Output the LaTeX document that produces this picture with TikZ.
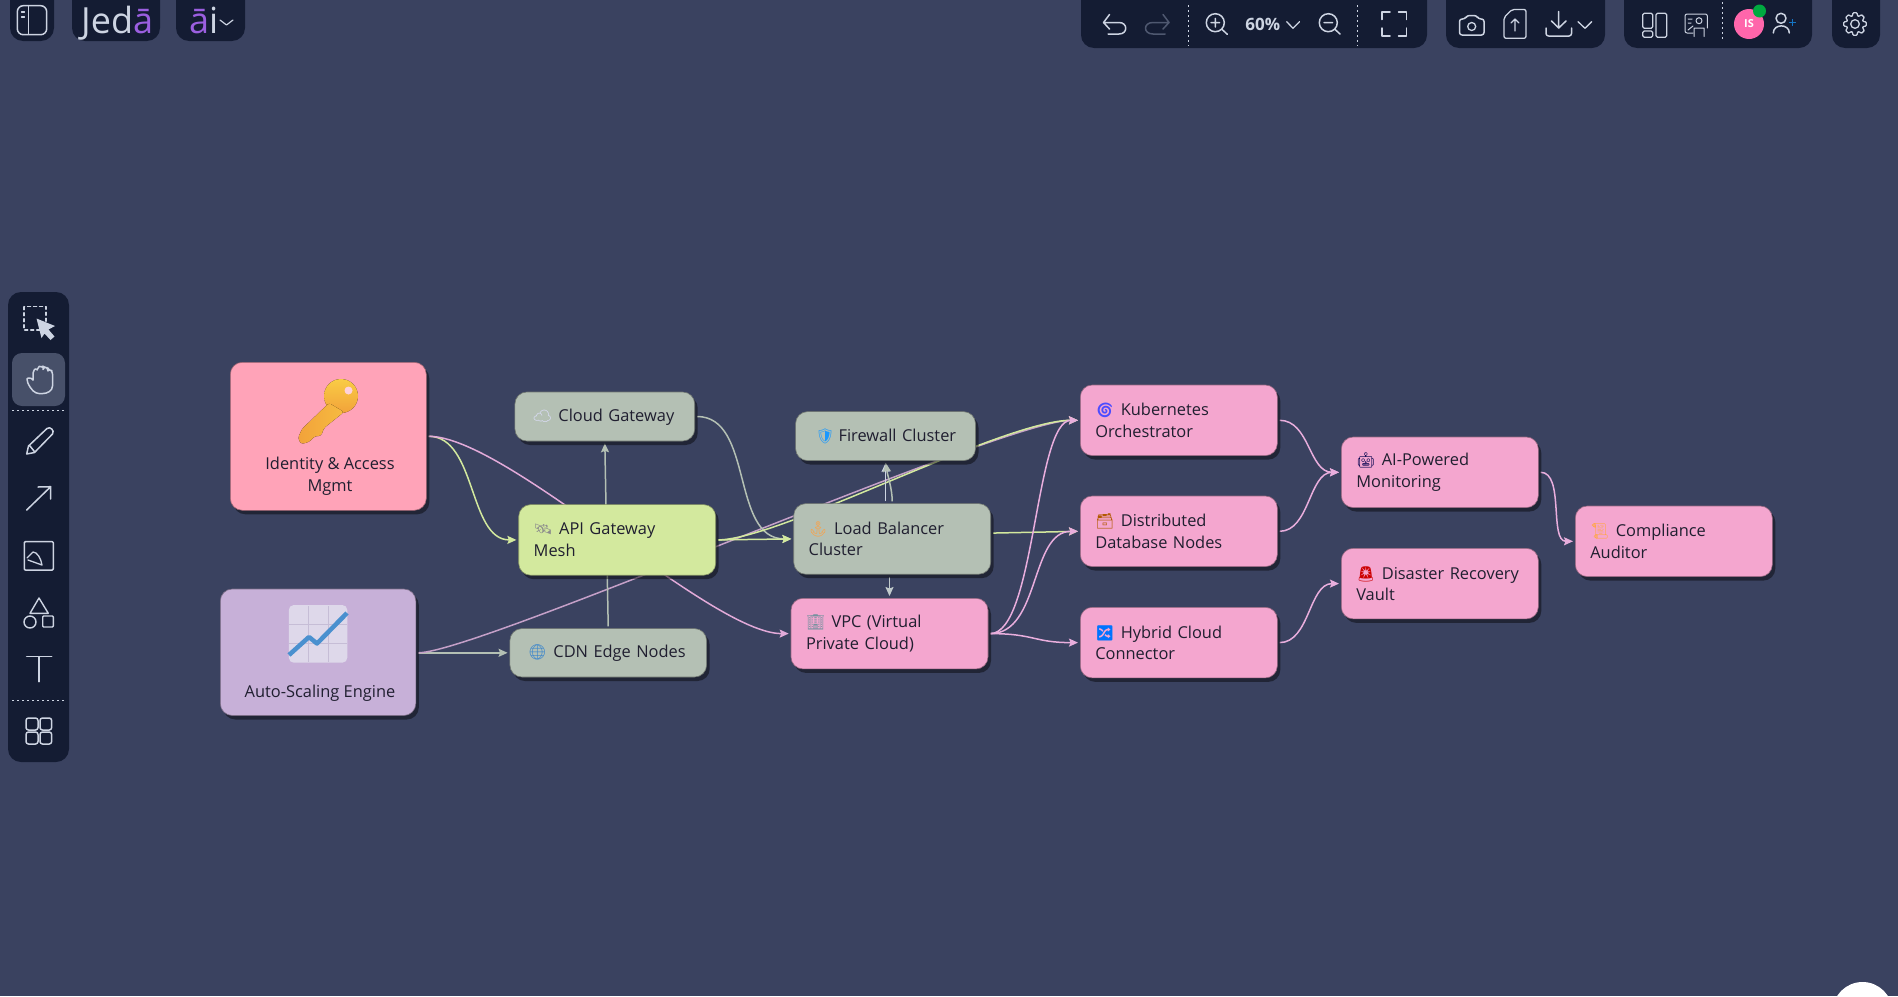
\documentclass[tikz,border=0pt]{standalone}
\usepackage{fontspec}
\setmainfont{Open Sans}
\newfontfamily\emo{Noto Emoji}
\usetikzlibrary{arrows.meta,shadows,calc}
\definecolor{bgc}{HTML}{3A4260}
\definecolor{barc}{HTML}{141C33}
\definecolor{hlc}{HTML}{475069}
\definecolor{icn}{HTML}{CDD4E2}
\definecolor{dimicn}{HTML}{4F5870}
\definecolor{purp}{HTML}{9B5FE0}
\definecolor{greyn}{HTML}{B4C0B4}
\definecolor{greenn}{HTML}{D3E99E}
\definecolor{pinkn}{HTML}{F4A6CF}
\definecolor{rosen}{HTML}{FFA3B8}
\definecolor{lilacn}{HTML}{C7B0D8}
\definecolor{pinke}{HTML}{E9AEDD}
\definecolor{mauve}{HTML}{C89ACB}
\definecolor{txt}{HTML}{201F30}
\definecolor{keya}{HTML}{F9CC45}
\definecolor{keyb}{HTML}{F2A23A}
\definecolor{chartb}{HTML}{DED8EA}
\definecolor{chartg}{HTML}{C6BDD6}
\definecolor{chartl}{HTML}{4A90CF}
\pgfdeclarelayer{bg}\pgfdeclarelayer{edges}
\pgfsetlayers{bg,edges,main}
\newcommand{\ico}[2]{\makebox[25.5pt][l]{\textcolor{#1}{\emo\fontsize{15}{15}\selectfont #2}}}
\tikzset{
  box/.style={rounded corners=12pt,anchor=north west,draw=#1!62!black,line width=.6pt,fill=#1,
    text=txt,font=\fontsize{16.4}{21.6}\selectfont,align=left,inner ysep=0pt,
    drop shadow={shadow xshift=3pt,shadow yshift=-4pt,opacity=.5,fill=black!85!bgc}},
  wide/.style={minimum height=70.6pt,text width=167pt,inner xsep=15pt},
  single/.style={minimum height=49pt,text width=#1,inner xsep=18pt},
  edge/.style={line width=1.5pt,draw=#1,-{Stealth[length=9pt,width=8pt,inset=1.5pt]},shorten <=2pt,shorten >=2pt},
  tail/.style={line width=1.5pt,draw=#1,shorten <=2pt},
  bar/.style={fill=barc,rounded corners=13pt},
  icon/.style={draw=icn,line width=1.5pt,line cap=round,line join=round},
  sep/.style={draw=icn,line width=1pt,dash pattern=on 1.5pt off 3.5pt},
}
\begin{document}
\begin{tikzpicture}[x=1pt,y=-1pt]
\useasboundingbox (0,0) rectangle (1898,996);
\begin{pgfonlayer}{bg}
\fill[bgc] (0,0) rectangle (1898,996);
\end{pgfonlayer}

% nodes
\node[box=rosen,minimum width=196pt,minimum height=148pt] (iam) at (230,362) {};
\node[box=lilacn,minimum width=195.5pt,minimum height=126.5pt] (auto) at (220,588.7) {};
\node[box=greyn,single=143.8pt,text height=12pt,text depth=2pt] (cloud) at (514.6,391.7) {\mbox{\ico{white!88!blue}{☁}Cloud Gateway}};
\node[box=greenn,wide] (api) at (518.4,504.3) {\mbox{\ico{black!45}{🛰}API Gateway}\\Mesh};
\node[box=greyn,single=160.7pt,minimum height=48.4pt,text height=11pt,text depth=2pt] (cdn) at (509.6,628.3) {\mbox{\ico{cyan!55!blue!85}{🌐}CDN Edge Nodes}};
\node[box=greyn,single=139.9pt,inner xsep=20pt] (fw) at (795.3,411.3) {\mbox{\makebox[23pt][l]{\textcolor{blue!45!cyan!90}{\emo\fontsize{15}{15}\selectfont 🛡}}Firewall Cluster}};
\node[box=greyn,wide] (lb) at (793.4,503.3) {\mbox{\ico{orange!75!white}{⚓}Load Balancer}\\Cluster};
\node[box=pinkn,wide] (vpc) at (790.7,598) {\mbox{\ico{cyan!40!black!70}{🏢}VPC (Virtual}\\Private Cloud)};
\node[box=pinkn,wide] (k8s) at (1080,384.7) {\mbox{\ico{blue!70!white}{🌀}Kubernetes}\\Orchestrator};
\node[box=pinkn,wide] (db) at (1080,495.7) {\mbox{\ico{orange!70!black}{🗃}Distributed}\\Database Nodes};
\node[box=pinkn,wide] (hy) at (1080,607) {\mbox{\ico{blue!55!cyan}{🔀}Hybrid Cloud}\\Connector};
\node[box=pinkn,wide] (mon) at (1341,436.7) {\mbox{\ico{black!70!blue}{🤖}AI-Powered}\\Monitoring};
\node[box=pinkn,wide] (dr) at (1341,548) {\mbox{\ico{red!80!black}{🚨}Disaster Recovery}\\Vault};
\node[box=pinkn,wide] (aud) at (1575,505.7) {\mbox{\ico{orange!70!white}{📜}Compliance}\\Auditor};
\node[font=\fontsize{16.4}{21.6}\selectfont,text=txt,align=center,inner sep=0pt] (iamt) at (330,476.5) {Identity \& Access\\Mgmt};
\node[font=\fontsize{16.4}{21.6}\selectfont,text=txt,inner sep=0pt] (autot) at (320,693) {Auto-Scaling Engine};

% key picture
\fill[top color=keya,bottom color=keyb] (341,396) circle[radius=17pt];
\fill[left color=keyb,right color=keya!60!keyb,rounded corners=2.5pt]
  (329,403) -- (344,412) -- (324,428) -- (321,436) -- (315,436) -- (309,442) -- (301,444) -- (298,438) -- (302,429) -- cycle;
\fill[rosen!50!white] (348.5,390.5) circle[radius=4pt];

% chart picture
\fill[rounded corners=5pt,fill=chartb] (288.8,605) rectangle (347.3,662.7);
\foreach \gx in {308,328}{\draw[chartg,line width=.8pt] (\gx,606) -- (\gx,662);}
\foreach \gy in {624,643}{\draw[chartg,line width=.8pt] (289,\gy) -- (347,\gy);}
\draw[draw=chartl,line width=4.5pt,line join=round] (289,655) -- (309,637) -- (317,643.5) -- (347,613);

% connectors, behind the nodes
\begin{pgfonlayer}{edges}
\draw[edge=greenn] (iam.east) .. controls +(50,0) and +(-50,0) .. (api.west);
\draw[edge=pinke!80!mauve] (iam.east) .. controls +(80,0) and +(-80,0) .. (vpc.west);
\draw[edge=greyn] (auto.east|-cdn.west) -- (cdn.west);
\draw[edge=mauve!85!greyn] (auto.east|-cdn.west) .. controls +(62,0) and +(-77,0) .. (k8s.west);
\draw[edge=greyn] (cdn.north) -- (cloud.south);
\draw[edge=greyn] (cloud.east) .. controls +(59,0) and +(-63,0) .. (lb.west);
\draw[edge=greenn] (api.east) -- (lb.west);
\draw[edge=greenn] (api.east) .. controls +(64,0) and +(-77,0) .. (k8s.west);
\draw[edge=icn] (fw.south|-lb.north) -- (fw.south);
\draw[edge=greyn] (lb.north) .. controls +(0,-15) and +(2,15) .. (fw.south);
\draw[edge=icn!50!greyn] (lb.south-|vpc.north) -- (vpc.north);
\draw[edge=greenn] ([yshift=5.8pt]lb.east) -- (db.west);
\draw[edge=pinke] (vpc.east) .. controls +(47,0) and +(-45,0) .. (k8s.west);
\draw[edge=pinke] (vpc.east) .. controls +(52,0) and +(-50,0) .. (db.west);
\draw[edge=pinke] (vpc.east) .. controls +(46,0) and +(-46,0) .. (hy.west);
\draw[edge=pinke] (k8s.east) .. controls +(32,0) and +(-32,0) .. (mon.west);
\draw[edge=pinke] (db.east) .. controls +(32,0) and +(-32,0) .. (mon.west);
\draw[edge=pinke] (hy.east) .. controls +(32,0) and +(-32,0) .. (dr.west);
\draw[edge=pinke] (mon.east) .. controls +(26,0) and +(-26,0) .. (aud.west);
\end{pgfonlayer}

% top and side chrome
\begin{scope}
\clip (0,0) rectangle (1898,996);
\fill[bar] (10,-14) rectangle (54,41);
\fill[bar] (72,-14) rectangle (160,41);
\fill[bar] (176,-14) rectangle (245,41);
\fill[bar] (1081,-14) rectangle (1427,48);
\fill[bar] (1446,-14) rectangle (1605,48);
\fill[bar] (1624,-14) rectangle (1812,48);
\fill[bar] (1832,-14) rectangle (1880,48);
\fill[white] (1862.5,1012) circle[radius=30pt];
\end{scope}
\fill[bar] (8,292) rectangle (69,762);
\fill[hlc,rounded corners=10pt] (12,353) rectangle (65,406);

% panel toggle
\draw[icon,rounded corners=6pt] (17.3,5.7) rectangle (46.7,34.7);
\draw[icon] (28.3,6) -- (28.3,34);
\draw[icon,line width=1.2pt] (21.5,12) -- (24.5,12) (21.5,17) -- (24.5,17);
% logos
\node[font=\fontsize{36}{36}\selectfont,text=icn,inner sep=0pt,anchor=base west] (jeda) at (81,33) {Jed\textcolor{purp}{ā}};
\node[font=\fontsize{36}{36}\selectfont,text=icn,inner sep=0pt,anchor=base west] (ait) at (189,33) {\textcolor{purp}{ā}i};
\draw[icon,line width=1.2pt] (220,20) -- (226.5,25) -- (233,20);

% undo / redo
\draw[icon] (1109.5,14.5) -- (1103.5,22.5) -- (1109.5,29) (1103.5,22.5) -- (1119,22.5) .. controls (1128,22.5) and (1128,34) .. (1119,34) -- (1108,34);
\draw[icon,draw=dimicn] (1163,14.5) -- (1169,22.5) -- (1163,29) (1169,22.5) -- (1153,22.5) .. controls (1143,22.5) and (1143,34) .. (1153,34) -- (1165,34);
\draw[sep] (1188.7,5) -- (1188.7,46);
\draw[sep] (1357.7,5) -- (1357.7,46);
% zoom
\draw[icon] (1215.3,22.7) circle[radius=9pt] (1222,29.4) -- (1227.3,34.3) (1211,22.7) -- (1219.6,22.7) (1215.3,18.4) -- (1215.3,27);
\node[font=\bfseries\fontsize{17}{17}\selectfont,text=icn,inner sep=0pt] (pct) at (1262.7,24) {60\%};
\draw[icon,line width=1.3pt] (1286.7,21.7) -- (1293,28.3) -- (1299.5,21.7);
\draw[icon] (1328.3,22.7) circle[radius=9pt] (1335,29.4) -- (1340,34) (1324,22.7) -- (1332.6,22.7);
% fit
\draw[icon] (1382,19.5) -- (1382,12) -- (1390,12) (1398.5,12) -- (1406.5,12) -- (1406.5,19.5) (1406.5,28) -- (1406.5,36) -- (1398.5,36) (1390,36) -- (1382,36) -- (1382,28);
% camera
\draw[icon,rounded corners=2.5pt] (1459.5,19) -- (1465,19) -- (1467,15.5) -- (1476.5,15.5) -- (1478.5,19) -- (1484,19) -- (1484,35) -- (1459.5,35) -- cycle;
\draw[icon,line width=1.3pt] (1471.7,26.5) circle[radius=4pt];
% export
\draw[icon,rounded corners=2pt,line width=1.3pt] (1512,9.5) -- (1526,9.5) -- (1526,38.3) -- (1504,38.3) -- (1504,17.5) -- cycle;
\draw[icon,line width=1.3pt] (1515,31) -- (1515,19) (1511,23) -- (1515,19) -- (1519,23);
% download
\draw[icon] (1558.7,11.5) -- (1558.7,28) (1551.5,21) -- (1558.7,28) -- (1566,21);
\draw[icon,rounded corners=2.5pt] (1546,28) -- (1546,36) -- (1571.5,36) -- (1571.5,28);
\draw[icon,line width=1.3pt] (1578,21.7) -- (1585,28.3) -- (1591.7,21.7);
% layout
\draw[icon,line width=1.2pt,rounded corners=1.5pt] (1642.7,13.3) rectangle (1652.7,28.3) (1642.7,31) rectangle (1652.7,37.3) (1656,13.3) rectangle (1666.7,37.3);
% presenter
\draw[icon,line width=1pt,rounded corners=2pt] (1693,33) -- (1685,33) -- (1685,14) -- (1707.3,14) -- (1707.3,28);
\draw[icon,line width=1pt] (1699,20.7) circle[radius=3pt] (1694,36.5) -- (1694,28) -- (1704,28) -- (1704,36.5) (1688,19) -- (1692,19) (1688,23) -- (1691,23) (1688,30) -- (1693,26);
\draw[sep] (1722.7,2) -- (1722.7,42);
% avatar
\fill[red!55!magenta!60!white] (1749,24) circle[radius=15pt];
\node[font=\bfseries\fontsize{11}{11}\selectfont,text=white,inner sep=0pt] (is) at (1749,24) {IS};
\fill[green!55!black!75!cyan] (1759.5,11) circle[radius=6.5pt];
\draw[icon] (1781,18.3) circle[radius=5pt] (1773.3,33) .. controls (1773.3,23.5) and (1789.3,23.5) .. (1789.3,33);
\draw[draw=cyan!55!blue,line width=1.2pt] (1789,22.3) -- (1795.7,22.3) (1792.3,19) -- (1792.3,25.7);
% gear
\draw[icon,line width=1.3pt,rounded corners=1.2pt,shift={(1855,24)}] (-13:11.5pt)
  \foreach \ga in {0,45,...,315}{ -- (\ga-13:11.5pt) -- (\ga+13:11.5pt) -- (\ga+22.5-9:8.5pt) -- (\ga+22.5+9:8.5pt)} -- cycle;
\draw[icon,line width=1.3pt] (1855,24) circle[radius=4.3pt];

% sidebar
\draw[icon,dash pattern=on 3pt off 3pt] (24,306.7) rectangle (46,330);
\fill[icn] (36.5,318.5) -- (55,326) -- (48.5,329.5) -- (54.5,336.5) -- (50.5,340) -- (44.5,333.5) -- (41.5,338) -- cycle;
% hand
\draw[icon,rounded corners=2pt] (33,380) -- (33,371) -- (36,368) -- (37.5,371) -- (37.5,367) -- (41,365.5) -- (43,368) -- (43,367.5) -- (46,366.5) -- (48,369) -- (48,370) -- (51,369.5) -- (52.5,372) -- (52.5,384) .. controls (52.5,391) and (47,393.5) .. (41,393.5) .. controls (35,393.5) and (31,390) .. (27,381) .. controls (27,378) and (31,377) .. (33,380);
\draw[sep] (12,410) -- (65,410);
% pencil
\draw[icon,line join=round] (26.7,454) -- (28.5,446) -- (47,428.5) .. controls (50,426) and (55,430.5) .. (52.5,434) -- (34.5,452.5) -- cycle (30,446) -- (34,451);
% arrow
\draw[icon] (26.7,510) -- (50.7,486.7) (38,487) -- (50.7,486.7) -- (50.7,499);
% image
\draw[icon,rounded corners=1pt] (24.3,541.7) rectangle (53.3,570);
\draw[icon,line width=1.3pt] (27,558) -- (33,552) .. controls (37,552) and (41,558) .. (42,565) -- (28,560);
% shapes
\draw[icon,line width=1.4pt] (39,598) -- (30,613.3) -- (48.3,613.3) -- cycle (30,622) circle[radius=6pt];
\draw[icon,line width=1.4pt,rounded corners=1pt] (42.7,616) rectangle (53.3,627);
% T
\draw[icon] (26.7,656.7) -- (51.7,656.7) (39,656.7) -- (39,681.7);
\draw[sep] (12,700) -- (65,700);
% grid
\draw[icon,rounded corners=2.5pt] (26,718) rectangle (38,730) (40,718) rectangle (51.7,730) (26,732) rectangle (38,744) (40,732) rectangle (51.7,744);
\end{tikzpicture}
\end{document}
